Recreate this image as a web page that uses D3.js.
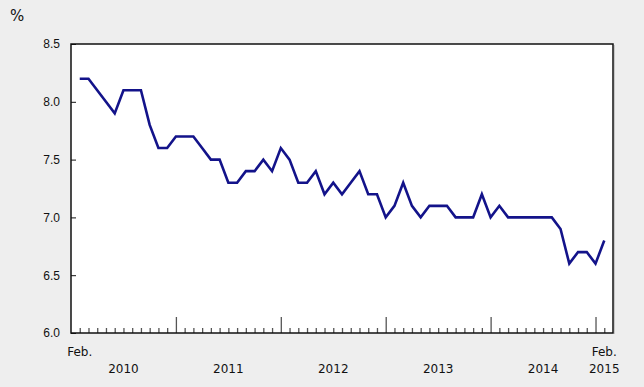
<!DOCTYPE html>
<html lang="en">
<head>
<meta charset="UTF-8">
<title>Monthly rate, Feb. 2010 to Feb. 2015</title>
<script src="https://d3js.org/d3.v7.min.js"></script>
<style>
  body { margin: 0; background: #eeeeee; }
  svg { display: block; font-family: "DejaVu Sans", Verdana, sans-serif; }
</style>
</head>
<body>
<svg id="chart" width="644" height="387"></svg>
<script>
// monthly values, Feb. 2010 .. Feb. 2015 (61 months)
var months = d3.range(61);
var rate = [
  8.2, 8.2, 8.1, 8.0, 7.9, 8.1, 8.1, 8.1, 7.8, 7.6, 7.6,        // 2010 Feb-Dec
  7.7, 7.7, 7.7, 7.6, 7.5, 7.5, 7.3, 7.3, 7.4, 7.4, 7.5, 7.4,   // 2011
  7.6, 7.5, 7.3, 7.3, 7.4, 7.2, 7.3, 7.2, 7.3, 7.4, 7.2, 7.2,   // 2012
  7.0, 7.1, 7.3, 7.1, 7.0, 7.1, 7.1, 7.1, 7.0, 7.0, 7.0, 7.2,   // 2013
  7.0, 7.1, 7.0, 7.0, 7.0, 7.0, 7.0, 7.0, 6.9, 6.6, 6.7, 6.7,   // 2014
  6.6, 6.8                                                      // 2015 Jan-Feb
];
var years = ["2010", "2011", "2012", "2013", "2014", "2015"];
var yTicks = [6.0, 6.5, 7.0, 7.5, 8.0, 8.5];

var svg = d3.select("#chart");
var plotLeft = 71, plotRight = 613, plotTop = 44, plotBottom = 333;

var x = d3.scaleLinear().domain([-1, 61]).range([plotLeft, plotRight]);
var y = d3.scaleLinear().domain([6, 8.5]).range([plotBottom, plotTop]);

// plot area
svg.append("rect")
    .attr("x", plotLeft).attr("y", plotTop)
    .attr("width", plotRight - plotLeft).attr("height", plotBottom - plotTop)
    .attr("fill", "#fff");

// x ticks: one per month, taller ones at January
var xAxis = svg.append("g")
    .attr("transform", "translate(0," + plotBottom + ")")
    .call(d3.axisBottom(x).tickValues(months).tickSize(-5).tickFormat(""));
xAxis.select(".domain").remove();
xAxis.selectAll(".tick line")
    .attr("stroke", "#555")
    .attr("stroke-width", 1.3)
    .attr("y2", function(d) { return d % 12 == 11 ? -16 : -5; });

// y axis
var yAxis = svg.append("g")
    .attr("transform", "translate(" + plotLeft + ",0)")
    .call(d3.axisLeft(y).tickValues(yTicks).tickSize(-5).tickPadding(11).tickFormat(d3.format(".1f")));
yAxis.select(".domain").remove();
yAxis.selectAll(".tick line").attr("stroke", "#111");
yAxis.selectAll(".tick text")
    .attr("font-size", 12)
    .attr("fill", "#111");

// frame
svg.append("line")
    .attr("x1", plotRight + 1.5).attr("x2", plotRight + 1.5)
    .attr("y1", plotTop + 1).attr("y2", plotBottom + 1)
    .attr("stroke", "#c8c8c8").attr("stroke-width", 1);
svg.append("rect")
    .attr("x", plotLeft).attr("y", plotTop)
    .attr("width", plotRight - plotLeft).attr("height", plotBottom - plotTop)
    .attr("fill", "none")
    .attr("stroke", "#111").attr("stroke-width", 1.5);

// line
var line = d3.line()
    .x(function(d, i) { return x(months[i]); })
    .y(function(d) { return y(d); });

svg.append("path")
    .datum(rate)
    .attr("d", line)
    .attr("fill", "none")
    .attr("stroke", "#13138a")
    .attr("stroke-width", 2.6)
    .attr("stroke-linejoin", "miter");

// x labels
var lab = svg.append("g").attr("font-size", 12).attr("fill", "#111").attr("text-anchor", "middle");
lab.append("text").attr("x", x(0)).attr("y", 356).text("Feb.");
lab.append("text").attr("x", x(60)).attr("y", 356).text("Feb.");
years.forEach(function(yr, k) {
    var cx = k < 5 ? x(5 + 12 * k) : x(60);
    lab.append("text").attr("x", cx).attr("y", 373).text(yr);
});

// unit
svg.append("text")
    .attr("x", 10).attr("y", 21)
    .attr("font-size", 15).attr("fill", "#111")
    .text("%");
</script>
</body>
</html>
